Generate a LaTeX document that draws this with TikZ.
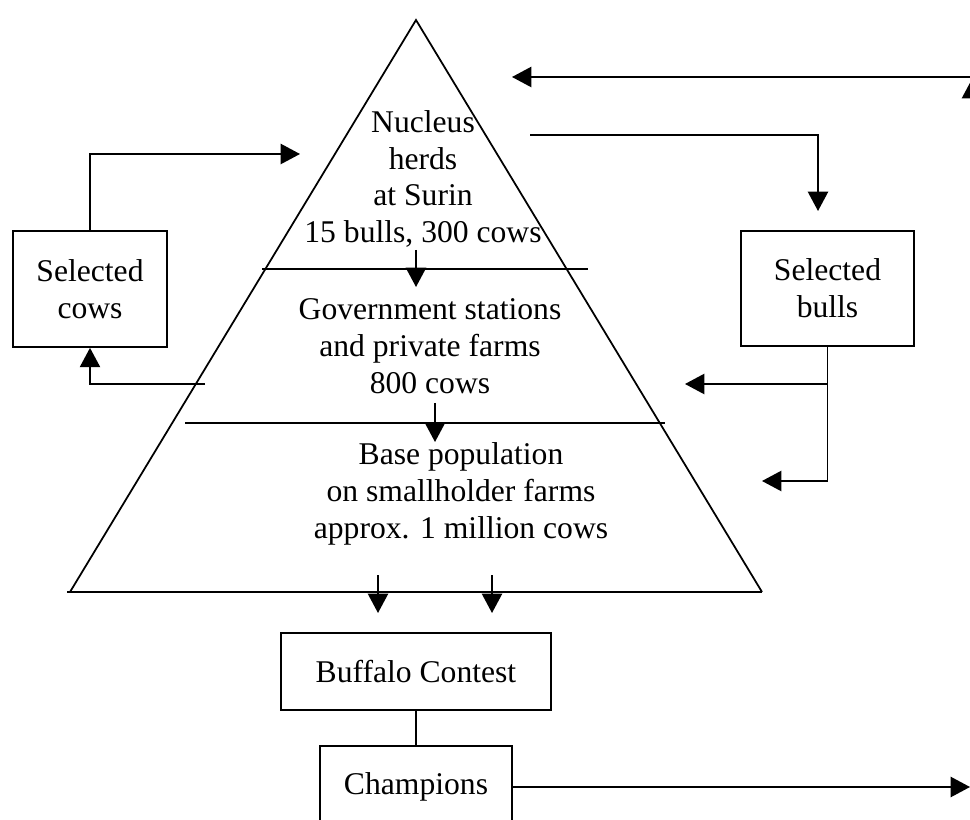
\documentclass[tikz,border=0pt]{standalone}
\usepackage{fontspec}
\setmainfont{Liberation Serif}
\usetikzlibrary{
    arrows.meta,
    positioning
}
\tikzset{
    % Lines
    line style/.style={line width=1pt},
    %
    % Arrows
    arrow tip/.tip={Triangle[length=11pt,width=11.5pt]},
    arr/.style={line style,-{arrow tip}},
    %
    % Nodes
    box/.style={draw,line style,align=center,inner sep=0pt},
    tier text/.style={align=center,inner sep=0pt},
}
\tikzstyle{every node}=[font=\fontsize{18}{21}\selectfont]

\begin{document}
\begin{tikzpicture}[x=0.02cm,y=-0.02cm]
        \useasboundingbox (0,0) rectangle (970,820);
        \clip (0,0) rectangle (970,820);
        % pyramid
        \coordinate (Apex) at (416,20);
        \coordinate (Left corner) at (70,592);
        \coordinate (Right corner) at (762,592);
        \draw[line style] (Left corner) -- (Apex) -- (Right corner);
        \draw[line style] (67,592) -- (Right corner);
        \draw[line style] (262,269) -- (588,269);
        \draw[line style] (185,423) -- (665,423);
        \node[tier text] (Nucleus) at (423,179) {Nucleus\\herds\\at Surin\\15 bulls, 300 cows};
        \node[tier text] (Stations) at (430,346) {Government stations\\and private farms\\800 cows};
        \node[tier text] (Base) at (461,494) {Base population\\on smallholder farms\\approx. 1 million cows};
        \draw[arr] (416,250) -- (416,287);
        \draw[arr] (435,403) -- (435,442);
        \draw[arr] (378,575) -- (378,613);
        \draw[arr] (492,575) -- (492,613);
        % side boxes
        \node[box,minimum width=3.08cm,minimum height=2.32cm] (Selected cows) at (90,289) {Selected\\cows};
        \node[box,minimum width=3.46cm,minimum height=2.3cm] (Selected bulls) at (827.5,288.5) {Selected\\bulls};
        \node[box,minimum width=5.4cm,minimum height=1.54cm] (Contest) at (416,671.5) {Buffalo Contest};
        \node[box,minimum width=3.84cm,minimum height=1.64cm] (Champions) at (416,787) {Champions};
        % free ends
        \coordinate (Cows in) at (300,154);
        \coordinate (Cows out) at (205,384);
        \coordinate (Bulls out) at (530,135);
        \coordinate (Bulls in) at (818,211);
        \coordinate (Stations in) at (685,384);
        \coordinate (Base in) at (762,481);
        \coordinate (Top in) at (512,77);
        \coordinate (Far top) at (980,77);
        \coordinate (Far up) at (972,79);
        \coordinate (Far down) at (972,787);
        % connectors
        \draw[arr] (Selected cows.north) |- (Cows in);
        \draw[arr] (Cows out) -| (Selected cows.south);
        \draw[arr] (Bulls out) -| (Bulls in);
        \draw[arr] (Selected bulls.south) |- (Base in);
        \draw[arr] (Selected bulls.south |- Stations in) -- (Stations in);
        \draw[arr] (Far top) -- (Top in);
        \draw[arr] (Far down) -- (Far up);
        \draw[line style] (Contest.south) -- (Champions.north);
        \draw[arr] (Champions.east) -- (970,787);
\end{tikzpicture}
\end{document}
